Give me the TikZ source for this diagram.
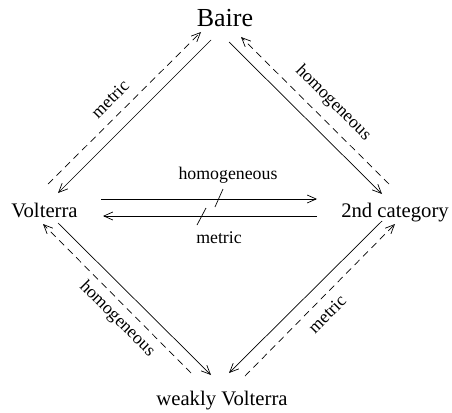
\documentclass[tikz,border=0pt]{standalone}
\usepackage{fontspec}
\setmainfont{Liberation Serif}
\usetikzlibrary{arrows.meta}
\begin{document}
\begin{tikzpicture}[x=1pt,y=-1pt,
  conn/.style={line width=0.7pt,-{Straight Barb[length=9pt,width=8pt,line width=0.7pt]}},
  dconn/.style={conn,dash pattern=on 7pt off 5pt},
  vert/.style={inner sep=0pt,anchor=base,font=\fontsize{20.7}{22}\selectfont},
  lab/.style={inner sep=0pt,font=\fontsize{17.8}{19}\selectfont},
  tick/.style={line width=0.7pt}]
\useasboundingbox (0,0) rectangle (452,412);
\node[vert,font=\fontsize{26}{28}\selectfont] (baire) at (225,27) {Baire};
\node[vert] (volt) at (44.5,217) {Volterra};
\node[vert] (cat) at (395,217) {2nd category};
\node[vert] (weak) at (222,405) {weakly Volterra};
% endpoints
\coordinate (a1) at (211,40);  \coordinate (a2) at (58,193);
\coordinate (b1) at (48,184);  \coordinate (b2) at (201,32);
\coordinate (c1) at (229,42);  \coordinate (c2) at (382,194);
\coordinate (d1) at (389,184); \coordinate (d2) at (241,37);
\coordinate (e1) at (101,199); \coordinate (e2) at (317,199);
\coordinate (f1) at (317,216); \coordinate (f2) at (103,216);
\coordinate (g1) at (58,223);  \coordinate (g2) at (211,375);
\coordinate (h1) at (191,373); \coordinate (h2) at (43,224);
\coordinate (i1) at (382,221); \coordinate (i2) at (229,373);
\coordinate (j1) at (245,376); \coordinate (j2) at (395,224);
\draw[conn] (a1) -- (a2);
\draw[dconn] (b1) -- (b2);
\draw[conn] (c1) -- (c2);
\draw[dconn] (d1) -- (d2);
\draw[conn] (e1) -- (e2);
\draw[conn] (f1) -- (f2);
\draw[conn] (g1) -- (g2);
\draw[dconn] (h1) -- (h2);
\draw[conn] (i1) -- (i2);
\draw[dconn] (j1) -- (j2);
% ticks
\coordinate (t1) at (223,189); \coordinate (t2) at (215,207);
\coordinate (t3) at (206,208); \coordinate (t4) at (197,225);
\draw[tick] (t1) -- (t2);
\draw[tick] (t3) -- (t4);
% labels
\node[lab,anchor=base] (lh) at (228,179) {homogeneous};
\node[lab,anchor=base] (lm) at (219,243) {metric};
\node[lab,rotate=45] (l1) at (110,99) {metric};
\node[lab,rotate=-45] (l2) at (333,103) {homogeneous};
\node[lab,rotate=-45] (l3) at (117,319) {homogeneous};
\node[lab,rotate=45] (l4) at (327,314) {metric};
\end{tikzpicture}
\end{document}
